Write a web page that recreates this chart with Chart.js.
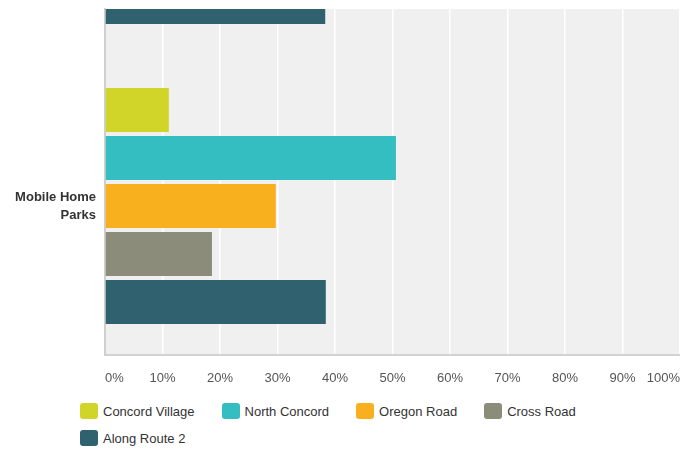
<!DOCTYPE html>
<html>
<head>
<meta charset="utf-8">
<script src="https://cdn.jsdelivr.net/npm/chart.js@4.4.0/dist/chart.umd.min.js"></script>
<style>
  html, body { margin: 0; padding: 0; background: #fff; }
  #wrap { position: relative; width: 680px; height: 453px; overflow: hidden; font-family: "Liberation Sans", Arial, sans-serif; }
  #legend { position: absolute; left: 80px; top: 401px; width: 600px; display: flex; flex-wrap: wrap; }
  .item { display: flex; align-items: center; height: 20px; margin: 0 27px 7px 0; font-size: 13px; color: #333; }
  .box { width: 18px; height: 16px; border-radius: 3px; margin-right: 5px; }
</style>
</head>
<body>
<div id="wrap">
  <canvas id="chart" width="680" height="395"></canvas>
  <div id="legend"></div>
</div>
<script>
// categories (only the last one is inside the crop; the name of the one above is not visible)
var categories = [null, ["Mobile Home", "Parks"]];
var series_names = ["Concord Village", "North Concord", "Oregon Road", "Cross Road", "Along Route 2"];
var series_colors = ["#d1d52a", "#35bec1", "#f9b01f", "#8c8c7a", "#2f616e"];

// percent values per series, one per category (null = out of view)
var concord_village = [null, 11.1];
var north_concord = [null, 50.6];
var oregon_road = [null, 29.7];
var cross_road = [null, 18.6];
var along_route_2 = [38.3, 38.4];

var x_ticks = [0, 10, 20, 30, 40, 50, 60, 70, 80, 90, 100];

var all_values = [concord_village, north_concord, oregon_road, cross_road, along_route_2];

// plot area background =============================
const plotBg = {
  id: "plotBg",
  beforeDraw(chart) {
    const { ctx, chartArea: { left, top, width, height } } = chart;
    ctx.save();
    ctx.fillStyle = "#f0f0f0";
    ctx.fillRect(left, top, width, height);
    ctx.restore();
  },
};

const datasets = series_names.map(function (name, s) {
  return {
    label: name,
    data: all_values[s].map(function (v, i) { return { x: v, y: i }; }),
    backgroundColor: series_colors[s],
    borderWidth: 0,
    categoryPercentage: 0.8,
    barPercentage: 44 / 48,
  };
});

const myChart = new Chart(document.getElementById("chart"), {
  type: "bar",
  data: { datasets: datasets },
  options: {
    indexAxis: "y",
    responsive: false,
    animation: false,
    layout: { padding: { top: 9, right: 0, left: 0, bottom: 0 } },
    plugins: {
      legend: { display: false },
      tooltip: { enabled: false },
    },
    scales: {
      x: {
        type: "linear",
        min: 0,
        max: 100,
        afterBuildTicks: function (scale) {
          scale.ticks = x_ticks.map(function (v) { return { value: v }; });
        },
        afterFit: function (scale) {
          scale.height = 40;
          scale.paddingLeft = 0;
          scale.paddingRight = 0;
        },
        grid: { color: "#ffffff", lineWidth: 1.5, drawTicks: true, tickLength: 16, tickColor: "rgba(0,0,0,0)" },
        border: { color: "#d2d2d2", width: 2 },
        ticks: {
          align: "inner",
          padding: 0,
          color: "#555",
          font: { family: "'Liberation Sans', Arial, sans-serif", size: 13 },
          callback: function (v) { return v + "%"; },
        },
      },
      y: {
        type: "linear",
        offset: false,
        reverse: true,
        min: 0.3433,
        max: 1.4967,
        afterBuildTicks: function (scale) {
          scale.ticks = categories.map(function (c, i) { return { value: i }; });
        },
        afterFit: function (scale) {
          scale.width = 105;
          // the two-line label should not push the plot down
          scale.paddingTop = 0;
          scale.paddingBottom = 0;
        },
        grid: { display: true, drawOnChartArea: false, color: "rgba(0,0,0,0)", drawTicks: true, tickLength: 9, tickColor: "rgba(0,0,0,0)" },
        border: { color: "#cfcfcf", width: 2 },
        ticks: {
          padding: 0,
          color: "#333",
          font: { family: "'Liberation Sans', Arial, sans-serif", size: 13, weight: "bold", lineHeight: 1.38 },
          callback: function (v) { return categories[v]; },
        },
      },
    },
  },
  plugins: [plotBg],
});

// html legend ======================================
var legend = document.getElementById("legend");
series_names.forEach(function (name, s) {
  var item = document.createElement("div");
  item.className = "item";
  var box = document.createElement("span");
  box.className = "box";
  box.style.background = series_colors[s];
  var txt = document.createElement("span");
  txt.textContent = name;
  item.appendChild(box);
  item.appendChild(txt);
  legend.appendChild(item);
});
</script>
</body>
</html>
